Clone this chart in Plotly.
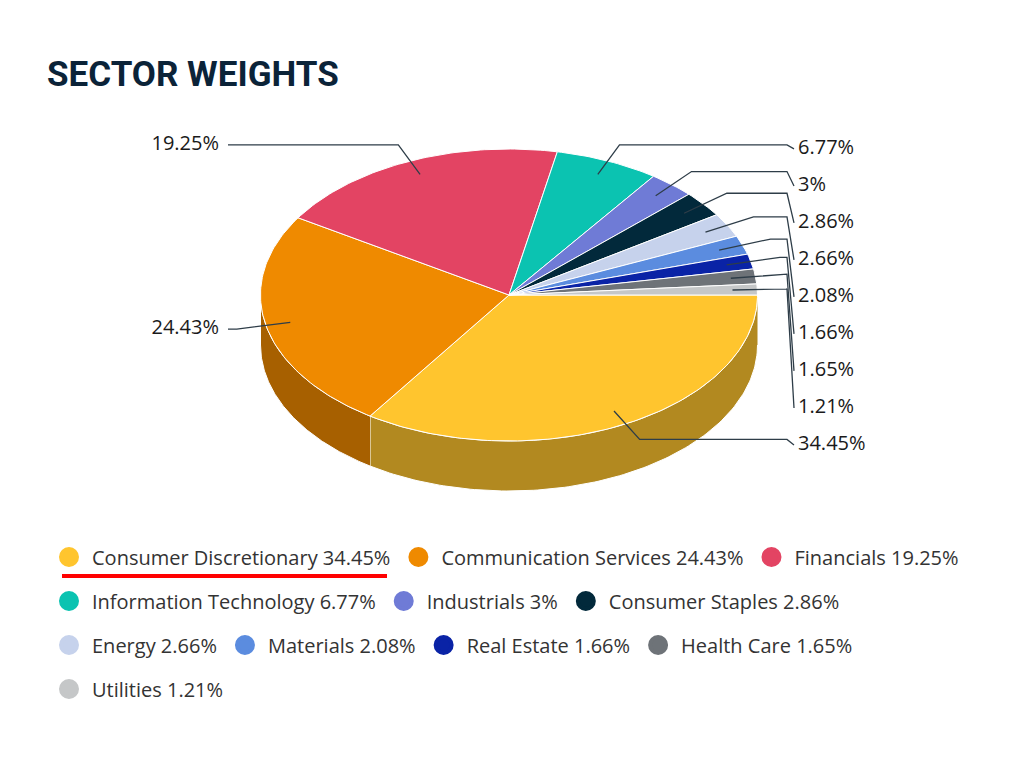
import numpy as np
import plotly.graph_objects as go

# sector weights of the fund (percent)
sectors = ['Consumer Discretionary', 'Communication Services', 'Financials',
           'Information Technology', 'Industrials', 'Consumer Staples', 'Energy',
           'Materials', 'Real Estate', 'Health Care', 'Utilities']
weights = [34.45, 24.43, 19.25, 6.77, 3, 2.86, 2.66, 2.08, 1.66, 1.65, 1.21]
colors = ['#FFC52E', '#EF8A00', '#E34463', '#0BC3B1', '#6F7BD6', '#02293B',
          '#C6D2EC', '#5B8CDF', '#0A23A6', '#6E7378', '#C5C7C8']

# "3d" pie drawn as an ellipse on pixel-like axes
CX, CY = 509, 295
RX, RY = 248.5, 146
DEPTH = 50
LABEL_STEP = 37


def darken(hex_color, f=0.7):
    h = hex_color.lstrip('#')
    r, g, b = (int(h[i:i + 2], 16) for i in (0, 2, 4))
    return '#%02x%02x%02x' % (int(r * f), int(g * f), int(b * f))


def rim(t, k=1.0):
    return CX + k * RX * np.cos(t), CY + k * RY * np.sin(t)


fracs = np.array(weights) / sum(weights)
ends = 2 * np.pi * np.cumsum(fracs)
starts = ends - 2 * np.pi * fracs
mids = (starts + ends) / 2
labels = [f'{w:g}%' for w in weights]

fig = go.Figure()

# legend entries (one group per sector)
for name, w, c in zip(sectors, weights, colors):
    fig.add_trace(go.Scatter(
        x=[None], y=[None], mode='markers', name=f'{name} {w:g}%',
        legendgroup=name,
        marker=dict(color=c, size=16, line=dict(color=c, width=4))
    ))

# visible side wall (front half only)
for name, a0, a1, c in zip(sectors, starts, ends, colors):
    s0, s1 = max(a0, 0), min(a1, np.pi)
    if s1 <= s0:
        continue
    t = np.linspace(s0, s1, 120)
    xs, ys = rim(t)
    fig.add_trace(go.Scatter(
        x=np.concatenate([xs, xs[::-1]]),
        y=np.concatenate([ys, ys[::-1] + DEPTH]),
        mode='lines', fill='toself', fillcolor=darken(c),
        line=dict(color='white', width=1), legendgroup=name,
        showlegend=False, hoverinfo='skip'
    ))

# top faces
for name, w, a0, a1, c in zip(sectors, weights, starts, ends, colors):
    t = np.linspace(a0, a1, max(int(np.degrees(a1 - a0)) + 2, 4))
    xs, ys = rim(t)
    fig.add_trace(go.Scatter(
        x=np.concatenate([[CX], xs, [CX]]),
        y=np.concatenate([[CY], ys, [CY]]),
        mode='lines', fill='toself', fillcolor=c,
        line=dict(color='white', width=1), legendgroup=name,
        showlegend=False, name=name,
        hovertemplate=f'{name}: {w:g}%<extra></extra>'
    ))

# data labels with connectors
inner_x, inner_y = rim(mids, 0.9)
elbow_x, elbow_y = rim(mids, 1.12)
right = [i for i in range(len(weights)) if np.cos(mids[i]) > 0]
right.sort(key=lambda i: elbow_y[i])
label_y = {}
prev = -1e9
for i in right:
    label_y[i] = max(elbow_y[i] + 4, prev + LABEL_STEP)
    prev = label_y[i]

rx_text, ry_text, rtext = [], [], []
lx_text, ly_text, ltext = [], [], []
for i, name in enumerate(sectors):
    if i in label_y:
        px = [inner_x[i], elbow_x[i], 787, 794]
        py = [inner_y[i], elbow_y[i], elbow_y[i], label_y[i]]
        rx_text.append(798)
        ry_text.append(label_y[i])
        rtext.append(labels[i])
    else:
        px = [inner_x[i], elbow_x[i], 228]
        py = [inner_y[i], elbow_y[i], elbow_y[i]]
        lx_text.append(219)
        ly_text.append(elbow_y[i])
        ltext.append(labels[i])
    fig.add_trace(go.Scatter(
        x=px, y=py, mode='lines', line=dict(color='#2E3D48', width=1.3),
        legendgroup=name, showlegend=False, hoverinfo='skip'
    ))

label_font = dict(family='Open Sans', size=20, color='#1A1A1A')
fig.add_trace(go.Scatter(
    x=rx_text, y=ry_text, text=rtext, mode='text', textposition='middle right',
    textfont=label_font, showlegend=False, hoverinfo='skip'
))
fig.add_trace(go.Scatter(
    x=lx_text, y=ly_text, text=ltext, mode='text', textposition='middle left',
    textfont=label_font, showlegend=False, hoverinfo='skip'
))

# red underline below the first legend entry
fig.add_shape(type='line', x0=62, x1=387, y0=576, y1=576,
              xref='x', yref='y', line=dict(color='#FF0000', width=4))

# the page puts the figure 8px in from the corner; ranges below make data units = page pixels
fig.update_xaxes(visible=False, range=[46, 976], fixedrange=True)
fig.update_yaxes(visible=False, range=[765, 8], fixedrange=True)

fig.update_layout(
    width=1024, height=757,
    margin=dict(l=38, r=56, t=0, b=0),
    paper_bgcolor='white', plot_bgcolor='white',
    title=dict(text='SECTOR WEIGHTS', x=39 / 1024, xanchor='left', xref='container',
               y=1 - 66 / 757, yanchor='middle', yref='container',
               font=dict(family='Roboto', size=35, color='#0B2338', weight='bold')),
    legend=dict(orientation='h', x=0, y=1 - 529.5 / 757,
                xanchor='left', yanchor='top', traceorder='grouped',
                itemwidth=36, tracegroupgap=15, bgcolor='rgba(0,0,0,0)',
                font=dict(family='Open Sans', size=20, color='#333333')),
    hovermode='closest'
)

fig.write_html('out.html')
